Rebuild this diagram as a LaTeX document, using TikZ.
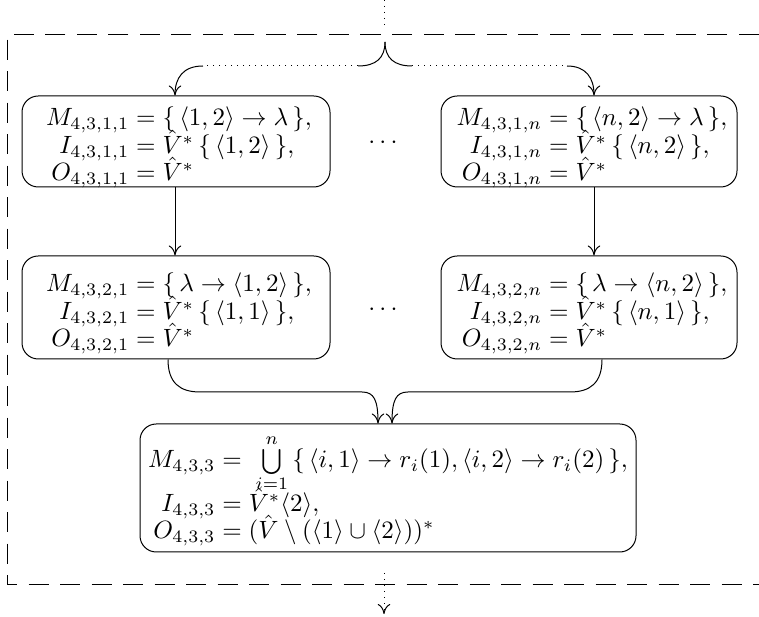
\documentclass[tikz,border=0pt]{standalone}
\usepackage{amsmath}
\usetikzlibrary{arrows.meta}
\def\rowh{7.7pt}
\newcommand\eqrow[3][3.3pt]{\rule[-#1]{0pt}{\dimexpr\rowh+#1\relax}\smash{#2}&\smash{{}=#3}}
\begin{document}
\begin{tikzpicture}[x=0.4pt,y=-0.4pt,
  stage/.style 2 args={draw,rounded corners=6.5pt,inner sep=0pt,
    minimum width=#1*0.4pt,minimum height=#2*0.4pt},
  content/.style={inner sep=0pt},
  arr/.style={-{To[length=4pt,width=5pt]}},
  frame/.style={dash pattern=on 8pt off 4.6pt}]
\useasboundingbox (0,0) rectangle (759,617);
\draw[frame] (790,35) -- (7,35) -- (7,585) -- (790,585);
\renewcommand{\arraystretch}{0.5}

\node[stage={308}{91}] (b1) at (176,141.5) {};
\node[stage={296}{91}] (b2) at (589,141.5) {};
\node[stage={308}{103}] (b3) at (176,307.5) {};
\node[stage={296}{103}] (b4) at (589,307.5) {};
\node[stage={496}{128}] (b5) at (388,488) {};

\node[content] (b1t) at ([xshift=1.2pt,yshift=-2.6pt]b1.center) {$\begin{array}{@{}r@{}l@{}}
\eqrow{M_{4,3,1,1}}{\{\,\langle 1,2\rangle \to \lambda\,\},}\\
\eqrow{I_{4,3,1,1}}{\hat{V}^*\,\{\,\langle 1,2\rangle\,\},}\\
\eqrow{O_{4,3,1,1}}{\hat{V}^*}
\end{array}$};
\node[content] (b2t) at ([xshift=1.2pt,yshift=-2.6pt]b2.center) {$\begin{array}{@{}r@{}l@{}}
\eqrow{M_{4,3,1,n}}{\{\,\langle n,2\rangle \to \lambda\,\},}\\
\eqrow{I_{4,3,1,n}}{\hat{V}^*\,\{\,\langle n,2\rangle\,\},}\\
\eqrow{O_{4,3,1,n}}{\hat{V}^*}
\end{array}$};
\node[content] (b3t) at ([xshift=1.2pt,yshift=-2.6pt]b3.center) {$\begin{array}{@{}r@{}l@{}}
\eqrow{M_{4,3,2,1}}{\{\,\lambda \to \langle 1,2\rangle\,\},}\\
\eqrow{I_{4,3,2,1}}{\hat{V}^*\,\{\,\langle 1,1\rangle\,\},}\\
\eqrow{O_{4,3,2,1}}{\hat{V}^*}
\end{array}$};
\node[content] (b4t) at ([xshift=1.2pt,yshift=-2.6pt]b4.center) {$\begin{array}{@{}r@{}l@{}}
\eqrow{M_{4,3,2,n}}{\{\,\lambda \to \langle n,2\rangle\,\},}\\
\eqrow{I_{4,3,2,n}}{\hat{V}^*\,\{\,\langle n,1\rangle\,\},}\\
\eqrow{O_{4,3,2,n}}{\hat{V}^*}
\end{array}$};
\node[content] (b5t) at ([yshift=-4pt]b5.center) {$\begin{array}{@{}r@{}l@{}}
\eqrow[9.7pt]{M_{4,3,3}}{\;\bigcup\limits_{i=1}^{n}\,\{\,\langle i,1\rangle \to r_i(1), \langle i,2\rangle \to r_i(2)\,\},}\\
\eqrow{I_{4,3,3}}{\hat{V}^*\langle 2\rangle,}\\
\eqrow{O_{4,3,3}}{(\hat{V}\setminus(\langle 1\rangle\cup\langle 2\rangle))^*}
\end{array}$};

\node (d1) at (385,143) {$\cdots$};
\node (d2) at (385,310) {$\cdots$};

% incoming dotted line and brace
\coordinate (in0) at (384,0);
\coordinate (in1) at (384,28);
\draw[dotted] (in0) -- (in1);
\coordinate (tip) at (385,42);
\coordinate (bl) at (358,66);
\coordinate (br) at (412,66);
\coordinate (cl) at (203,66);
\coordinate (cr) at (567,66);
\coordinate (t1) at (175,96);
\coordinate (t2) at (594,96);
\draw (tip) .. controls (385,58) and (376,66) .. (bl);
\draw (tip) .. controls (385,58) and (394,66) .. (br);
\draw[dotted] (bl) -- (cl);
\draw[dotted] (br) -- (cr);
\draw[arr] (cl) .. controls (183,66) and (175,78) .. (b1.north -| t1);
\draw[arr] (cr) .. controls (586,66) and (594,78) .. (b2.north -| t2);

% vertical arrows
\draw[arr] (b1.south -| t1) -- (b3.north -| t1);
\draw[arr] (b2.south -| t2) -- (b4.north -| t2);

% merging arrows
\coordinate (s3) at (168,359);
\coordinate (s4) at (602,359);
\coordinate (e3) at (378,424);
\coordinate (e4) at (392,424);
\draw[arr] (b3.south -| s3) .. controls (168,383) and (180,392) .. (200,392) -- (362,392) .. controls (374,392) and (378,400) .. (b5.north -| e3);
\draw[arr] (b4.south -| s4) .. controls (602,383) and (590,392) .. (570,392) -- (408,392) .. controls (396,392) and (392,400) .. (b5.north -| e4);

% outgoing dotted arrow
\coordinate (o0) at (384,573);
\coordinate (o1) at (384,614);
\draw[dotted,arr] (o0) -- (o1);
\end{tikzpicture}
\end{document}
